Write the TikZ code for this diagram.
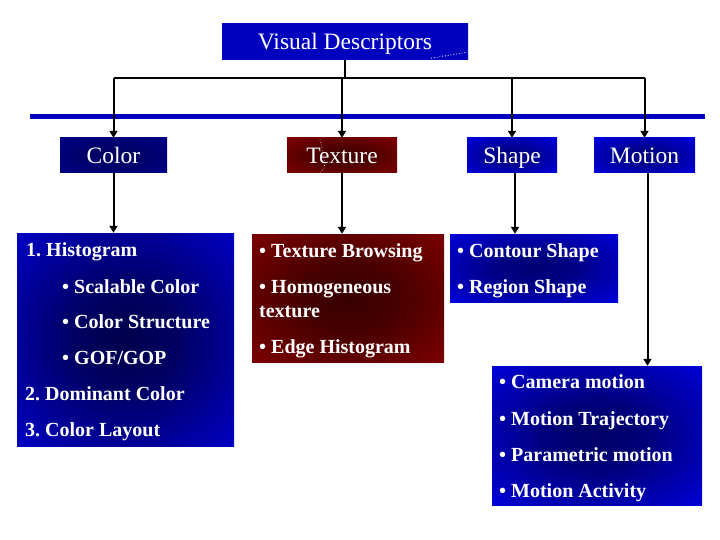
\documentclass[tikz,border=0pt]{standalone}
\usepackage{fontspec}
\setmainfont{Liberation Serif}
\usetikzlibrary{arrows.meta}

% radial glow, darker in the middle
\pgfdeclareradialshading[glowin,glowout]{glow}{\pgfpoint{0bp}{0bp}}{%
  color(0bp)=(glowin); color(12bp)=(glowin!85!glowout); color(42bp)=(glowout); color(50bp)=(glowout)}
\colorlet{glowin}{black}
\colorlet{glowout}{black}

\tikzset{
  glow/.style 2 args={shading=glow, /utils/exec={\colorlet{glowin}{#1}\colorlet{glowout}{#2}}},
  headbox/.style={rectangle, inner sep=0pt, text=white,
    font=\fontsize{23.5}{26}\selectfont, text height=16pt, text depth=0pt},
  listbox/.style={rectangle, inner sep=0pt},
  item/.style={anchor=base west, inner sep=0pt, text=white,
    font=\fontsize{20}{23}\selectfont\bfseries},
  conn/.style={line width=2pt},
  arr/.style={line width=2pt, -{Triangle[length=7pt,width=8pt]}}
}

\begin{document}
\begin{tikzpicture}[x=1pt,y=-1pt]
\useasboundingbox (0,0) rectangle (720,540);

% title
\node[headbox, minimum width=246pt, minimum height=36pt,
  left color=blue!75!black, middle color=blue!42!black, right color=blue!75!black] (vd) at (345,42) {Visual Descriptors};
\draw[white, dotted, line width=0.8pt] (vd.south east) ++(-37,-2) -- ++(36,-6);

% thick bar
\draw[blue!75!black, line width=5pt] (30,116.5) -- (705,116.5);

% four descriptor groups
\node[headbox, minimum width=107pt, minimum height=35pt, glow={blue!38!black}{blue!55!black}] (color) at (113.5,155.5) {Color};
\node[headbox, minimum width=110pt, minimum height=35pt, glow={red!25!black}{red!55!black}] (texture) at (342,155.5) {Texture};
\node[headbox, minimum width=90pt, minimum height=35pt, glow={blue!50!black}{blue!95!black}] (shape) at (512,155.5) {Shape};
\node[headbox, minimum width=101pt, minimum height=35pt, glow={blue!50!black}{blue!95!black}] (motion) at (644.5,155.5) {Motion};
\draw[white, dotted, line width=0.6pt] (texture.north west) ++(33,2) .. controls ++(6,20) and ++(10,-4) .. ++(-2,34);

% bus from the title
\coordinate (bus) at (vd.south |- 0,78);
\draw[conn] (vd.south) -- (bus);
\draw[line width=1.5pt] (color.north |- bus) -- (motion.north |- bus);
\foreach \n in {color,texture,shape,motion}
  \draw[arr] (\n.north |- bus) -- (\n.north);

% detail boxes
\node[listbox, minimum width=217pt, minimum height=213pt, glow={blue!30!black}{blue!88!black}] (clist) at (125.5,339.5) {};
\node[listbox, minimum width=192pt, minimum height=128pt, glow={red!22!black}{red!55!black}] (tlist) at (348,298) {};
\node[listbox, minimum width=168pt, minimum height=68pt, glow={blue!45!black}{blue!95!black}] (slist) at (534,268) {};
\node[listbox, minimum width=210pt, minimum height=139pt, glow={blue!40!black}{blue!95!black}] (mlist) at (597,435.5) {};

\draw[arr] (color.south) -- (color.south |- clist.north);
\draw[arr] (texture.south) -- (texture.south |- tlist.north);
\draw[arr] ([xshift=3pt]shape.south) -- ([xshift=3pt]shape.south |- slist.north);
\draw[arr] ([xshift=3pt]motion.south) -- ([xshift=3pt]motion.south |- mlist.north);

% items
\foreach \x/\y/\t [count=\i] in {26/256/{1.\ Histogram}, 62/293/{\textbullet\ Scalable Color},
    62/328/{\textbullet\ Color Structure}, 62/364/{\textbullet\ GOF/GOP},
    25/400/{2.\ Dominant Color}, 25/436/{3.\ Color Layout}}
  \node[item] (c\i) at (\x,\y) {\t};
\foreach \y/\t [count=\i] in {257/{\textbullet\ Texture Browsing}, 293/{\textbullet\ Homogeneous},
    317/{texture}, 353/{\textbullet\ Edge Histogram}}
  \node[item] (t\i) at (259,\y) {\t};
\foreach \y/\t [count=\i] in {257/{\textbullet\ Contour Shape}, 293/{\textbullet\ Region Shape}}
  \node[item] (s\i) at (457,\y) {\t};
\foreach \y/\t [count=\i] in {388/{\textbullet\ Camera motion}, 425/{\textbullet\ Motion Trajectory},
    461/{\textbullet\ Parametric motion}, 497/{\textbullet\ Motion Activity}}
  \node[item] (m\i) at (499,\y) {\t};
\end{tikzpicture}
\end{document}
